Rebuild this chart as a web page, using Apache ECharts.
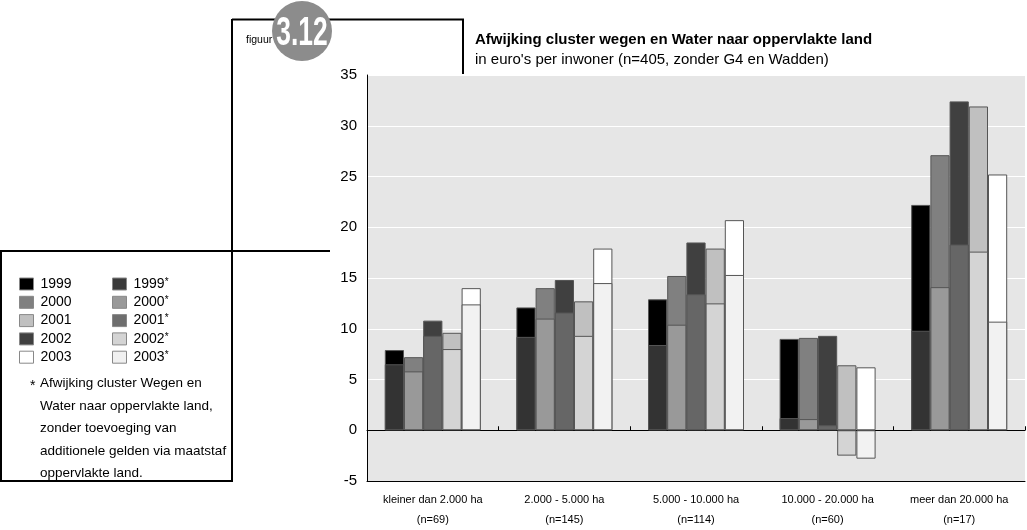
<!DOCTYPE html>
<html><head><meta charset="utf-8">
<script src="https://cdn.jsdelivr.net/npm/echarts@6/dist/echarts.min.js"></script>
<style>html,body{margin:0;padding:0;background:#fff}#c{width:1027px;height:530px}</style>
</head><body><div id="c"></div>
<script>
// ---- data ----
const categories = ['kleiner dan 2.000 ha', '2.000 - 5.000 ha', '5.000 - 10.000 ha', '10.000 - 20.000 ha', 'meer dan 20.000 ha'];
const categoryN = ['(n=69)', '(n=145)', '(n=114)', '(n=60)', '(n=17)'];
const years = ['1999', '2000', '2001', '2002', '2003'];
const total1999 = [7.9, 12.1, 12.9, 9.0, 22.2];
const total2000 = [7.2, 14.0, 15.2, 9.1, 27.1];
const total2001 = [10.8, 14.8, 18.5, 9.3, 32.4];
const total2002 = [9.6, 12.7, 17.9, 6.4, 31.9];
const total2003 = [14.0, 17.9, 20.7, 6.2, 25.2];
const star1999 = [6.5, 9.2, 8.4, 1.2, 9.8];
const star2000 = [5.8, 11.0, 10.4, 1.1, 14.1];
const star2001 = [9.3, 11.6, 13.4, 0.5, 18.3];
const star2002 = [8.0, 9.3, 12.5, -2.5, 17.6];
const star2003 = [12.4, 14.5, 15.3, -2.8, 10.7];
const yMin = -5, yMax = 35, yStep = 5;
const titleText = 'Afwijking cluster wegen en Water naar oppervlakte land';
const subtitleText = "in euro's per inwoner (n=405, zonder G4 en Wadden)";
const footnoteLines = ['Afwijking cluster Wegen en', 'Water naar oppervlakte land,', 'zonder toevoeging van', 'additionele gelden via maatstaf', 'oppervlakte land.'];

// ---- styles ----
const FONT = 'Liberation Sans, Arial, sans-serif';
const barColors = ['#000000', '#808080', '#404040', '#c0c0c0', '#ffffff'];
const starColors = ['#333333', '#999999', '#666666', '#d4d4d4', '#f2f2f2'];
const legendYearColors = ['#000000', '#808080', '#c0c0c0', '#404040', '#ffffff'];
const legendStarColors = ['#3a3a3a', '#999999', '#6e6e6e', '#d4d4d4', '#f0f0f0'];
const totals = [total1999, total2000, total2001, total2002, total2003];
const stars = [star1999, star2000, star2001, star2002, star2003];

const series = [];
years.forEach((y, i) => {
  series.push({
    name: y, type: 'bar', xAxisIndex: 0, yAxisIndex: 0,
    data: totals[i], barWidth: 19.2, barGap: '0%',
    itemStyle: { color: barColors[i], borderColor: '#555', borderWidth: 1 },
    emphasis: { disabled: true }, z: 2
  });
});
years.forEach((y, i) => {
  series.push({
    name: y + '*', type: 'bar', xAxisIndex: 1, yAxisIndex: 0,
    data: stars[i], barWidth: 19.2, barGap: '0%',
    itemStyle: { color: starColors[i], borderColor: '#555', borderWidth: 1 },
    emphasis: { disabled: true }, z: 3
  });
});

const catLabels = categories.map((c, i) => c + '\n' + categoryN[i]);

const legendBase = {
  orient: 'vertical', itemWidth: 14, itemHeight: 12, itemGap: 4.3, padding: 0,
  selectedMode: false, top: 277,
  textStyle: { fontFamily: FONT, fontSize: 14, color: '#000', lineHeight: 14, padding: [0, 0, 0, 2],
    rich: { n: { fontFamily: FONT, fontSize: 14, color: '#000', lineHeight: 14 },
            s: { fontFamily: FONT, fontSize: 10, color: '#000', lineHeight: 7, verticalAlign: 'top' } } }
};

const chart = echarts.init(document.getElementById('c'), null, { renderer: 'canvas' });
chart.setOption({
  animation: false,
  backgroundColor: '#ffffff',
  title: {
    text: titleText, subtext: subtitleText, left: 475, top: 30, itemGap: 0, padding: 0,
    textStyle: { fontFamily: FONT, fontSize: 15, fontWeight: 'bold', color: '#000', lineHeight: 20 },
    subtextStyle: { fontFamily: FONT, fontSize: 15, color: '#000', lineHeight: 20 }
  },
  legend: [
    Object.assign({}, legendBase, {
      left: 19,
      data: years.map((y, i) => ({ name: y, icon: 'rect',
        itemStyle: { color: legendYearColors[i], borderColor: '#888', borderWidth: 1 } }))
    }),
    Object.assign({}, legendBase, {
      left: 112,
      formatter: name => '{n|' + name.replace('*', '') + '}{s|*}',
      data: years.map((y, i) => ({ name: y + '*', icon: 'rect',
        itemStyle: { color: legendStarColors[i], borderColor: '#888', borderWidth: 1 } }))
    })
  ],
  grid: { left: 367, right: 2, top: 75, bottom: 48, show: true, backgroundColor: '#e6e6e6', borderWidth: 0, containLabel: false },
  xAxis: [
    { type: 'category', data: catLabels, position: 'bottom',
      axisLine: { onZero: false, lineStyle: { color: '#000', width: 1 } },
      axisTick: { show: false },
      axisLabel: { fontFamily: FONT, fontSize: 11, color: '#000', lineHeight: 20, margin: 9, interval: 0 },
      splitLine: { show: false } },
    { type: 'category', data: catLabels, position: 'bottom',
      axisLine: { onZero: true, lineStyle: { color: '#000', width: 1 } },
      axisTick: { show: true, inside: true, length: 4, interval: 0, lineStyle: { color: '#000' } },
      axisLabel: { show: false, interval: 0 }, splitLine: { show: false } }
  ],
  yAxis: {
    type: 'value', min: yMin, max: yMax, interval: yStep,
    axisLine: { show: true, lineStyle: { color: '#000', width: 1 } },
    axisTick: { show: false },
    axisLabel: { fontFamily: FONT, fontSize: 15, color: '#000', margin: 10 },
    splitLine: { show: true, lineStyle: { color: '#ffffff', width: 1 } }
  },
  series: series,
  graphic: [
    { type: 'polyline', shape: { points: [[232, 19.5], [463, 19.5], [463, 74]] }, style: { stroke: '#000', lineWidth: 2, fill: null }, z: 10 },
    { type: 'line', shape: { x1: 232, y1: 19, x2: 232, y2: 481 }, style: { stroke: '#000', lineWidth: 2 }, z: 10 },
    { type: 'line', shape: { x1: 0, y1: 251, x2: 330, y2: 251 }, style: { stroke: '#000', lineWidth: 2 }, z: 10 },
    { type: 'line', shape: { x1: 1, y1: 251, x2: 1, y2: 481 }, style: { stroke: '#000', lineWidth: 2 }, z: 10 },
    { type: 'line', shape: { x1: 0, y1: 481, x2: 233, y2: 481 }, style: { stroke: '#000', lineWidth: 2 }, z: 10 },
    { type: 'circle', shape: { cx: 302, cy: 31, r: 30 }, style: { fill: '#8c8c8c' }, z: 11 },
    { type: 'text', x: 302, y: 34, scaleX: 0.66, z: 12,
      style: { text: '3.12', fontFamily: FONT, fontSize: 40, fontWeight: 'bold', fill: '#fff', align: 'center', verticalAlign: 'middle' } },
    { type: 'text', x: 246, y: 40, z: 12,
      style: { text: 'figuur', fontFamily: FONT, fontSize: 10.5, fill: '#000', verticalAlign: 'middle' } },
    { type: 'text', x: 30, y: 386, z: 12,
      style: { text: '*', fontFamily: FONT, fontSize: 14, fill: '#000', verticalAlign: 'middle' } },
    { type: 'text', x: 40, y: 372, z: 12,
      style: { text: footnoteLines.join('\n'), fontFamily: FONT, fontSize: 13.5, lineHeight: 22.6, fill: '#000', verticalAlign: 'top' } }
  ]
});
</script>
</body></html>
